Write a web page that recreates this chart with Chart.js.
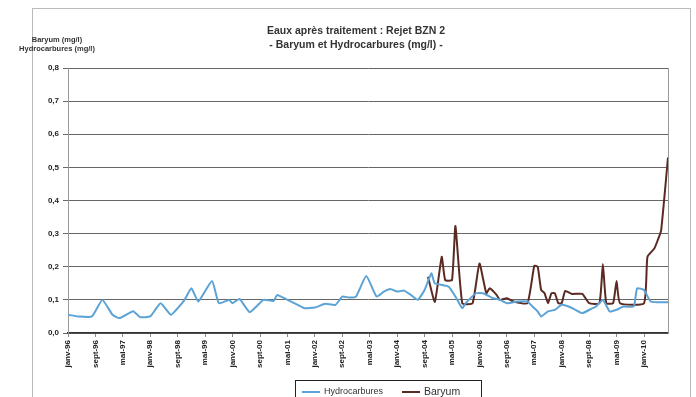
<!DOCTYPE html>
<html lang="fr">
<head>
<meta charset="utf-8">
<script src="https://cdn.jsdelivr.net/npm/chart.js@4"></script>
<style>
    body { margin: 0; background: #fff; font-family: "Liberation Sans", Arial, sans-serif; }
    #wrap { position: relative; width: 696px; height: 397px; overflow: hidden; }
    #frame { position: absolute; left: 32px; top: 8px; width: 657px; height: 400px; border: 1px solid #bbb; }
    .title { position: absolute; left: 190px; width: 332px; text-align: center; font-size: 10.5px; font-weight: bold; color: #333; }
    .ytitle { position: absolute; left: 10px; width: 94px; text-align: center; font-size: 7.5px; font-weight: bold; color: #333; }
    #legend { position: absolute; left: 295px; top: 380px; width: 185px; height: 30px; border: 1px solid #222; background: #fff; font-size: 9px; color: #333; }
    #legend .item { position: absolute; top: 5px; }
    #legend .swatch { display: inline-block; width: 18px; height: 0; vertical-align: middle; margin-right: 4px; }
</style>
</head>
<body>
<div id="wrap">
    <div id="frame"></div>
    <canvas id="chart"></canvas>
    <div class="title" style="top:24px">Eaux après traitement : Rejet BZN 2</div>
    <div class="title" style="top:38px">- Baryum et Hydrocarbures (mg/l) -</div>
    <div class="ytitle" style="top:35px">Baryum (mg/l)</div>
    <div class="ytitle" style="top:44px">Hydrocarbures (mg/l)</div>
    <div id="legend">
        <span class="item" style="left:6px"><span class="swatch" style="border-top:2px solid #5ba3d6"></span>Hydrocarbures</span>
        <span class="item" style="left:106px; font-size:10.5px; top:4px"><span class="swatch" style="border-top:2px solid #5b2a22"></span>Baryum</span>
    </div>
</div>
<script>
// Graduations de l'axe des dates (une tous les 8 mois)
const tickLabels = ['janv-96', 'sept-96', 'mai-97', 'janv-98', 'sept-98', 'mai-99', 'janv-00', 'sept-00',
    'mai-01', 'janv-02', 'sept-02', 'mai-03', 'janv-04', 'sept-04', 'mai-05', 'janv-06',
    'sept-06', 'mai-07', 'janv-08', 'sept-08', 'mai-09', 'janv-10'];
const tickStep = 8;

// Hydrocarbures : mois (depuis janv-96) et valeurs en mg/l
const hcMonths = [0, 3, 7, 10, 13, 15, 19, 21, 24, 27, 30, 32, 34, 36, 38, 42, 44, 47, 48, 50,
    53, 57, 60, 61, 64, 67, 69, 72, 75, 78, 80, 82, 84, 87, 90, 92, 94, 96, 98, 100,
    102, 104, 106, 107, 111, 113, 115, 116, 119, 121, 124, 126, 128, 131, 134, 135, 137, 138, 140, 142,
    144, 146, 148, 150, 153, 154, 156, 158, 160, 162, 165, 166, 168, 170, 175];
const hcValues = [0.055, 0.05, 0.05, 0.10, 0.055, 0.045, 0.066, 0.048, 0.05, 0.09, 0.055, 0.075, 0.10, 0.135, 0.095, 0.157, 0.09, 0.10, 0.09, 0.103,
    0.063, 0.10, 0.097, 0.115, 0.10, 0.085, 0.075, 0.077, 0.088, 0.085, 0.11, 0.107, 0.11, 0.172, 0.11, 0.124, 0.133, 0.125, 0.128, 0.115,
    0.10, 0.13, 0.18, 0.15, 0.14, 0.11, 0.075, 0.09, 0.12, 0.12, 0.105, 0.10, 0.09, 0.095, 0.095, 0.085, 0.065, 0.05, 0.065, 0.07,
    0.085, 0.08, 0.07, 0.06, 0.075, 0.08, 0.10, 0.065, 0.07, 0.08, 0.08, 0.135, 0.13, 0.095, 0.093];

// Baryum : mois et valeurs en mg/l
const baMonths = [105, 107, 109, 110, 112, 113, 115, 118, 120, 122, 123, 125, 126, 128, 130, 134, 136, 137, 138, 139,
    140, 141, 142, 143, 144, 145, 147, 150, 152, 155, 156, 157, 159, 160, 161, 168, 169, 171, 172, 173, 175];
const baValues = [0.17, 0.094, 0.23, 0.16, 0.16, 0.323, 0.09, 0.09, 0.21, 0.12, 0.135, 0.115, 0.10, 0.105, 0.095, 0.09, 0.203, 0.20, 0.13, 0.12,
    0.09, 0.12, 0.12, 0.09, 0.09, 0.127, 0.118, 0.118, 0.09, 0.09, 0.208, 0.09, 0.09, 0.157, 0.09, 0.09, 0.23, 0.255, 0.28, 0.31, 0.53];

function toPoints(months, values) {
    return months.map((m, i) => ({ x: m, y: values[i] }));
}

// Bord droit de la zone de tracé
const plotFrame = {
    id: 'plotFrame',
    afterDraw(chart) {
        const { ctx, chartArea } = chart;
        ctx.save();
        ctx.strokeStyle = '#999';
        ctx.lineWidth = 1;
        ctx.beginPath();
        ctx.moveTo(chartArea.right + 0.5, chartArea.top);
        ctx.lineTo(chartArea.right + 0.5, chartArea.bottom);
        ctx.stroke();
        ctx.restore();
    }
};

const canvas = document.getElementById('chart');
canvas.width = 696;
canvas.height = 397;

new Chart(canvas.getContext('2d'), {
    type: 'line',
    data: {
        datasets: [{
            label: 'Hydrocarbures',
            data: toPoints(hcMonths, hcValues),
            borderColor: '#5ba3d6',
            borderWidth: 2,
            pointRadius: 0,
            tension: 0.15
        }, {
            label: 'Baryum',
            data: toPoints(baMonths, baValues),
            borderColor: '#5b2a22',
            borderWidth: 2,
            pointRadius: 0,
            tension: 0.15
        }]
    },
    options: {
        responsive: false,
        animation: false,
        layout: { padding: { top: 68, right: 28, left: 0, bottom: 0 } },
        plugins: {
            legend: { display: false },
            tooltip: { enabled: false }
        },
        scales: {
            x: {
                type: 'linear',
                min: 0,
                max: 175,
                afterBuildTicks(scale) {
                    scale.ticks = tickLabels.map((_, i) => ({ value: i * tickStep }));
                },
                afterFit(scale) { scale.height = 64; },
                ticks: {
                    autoSkip: false,
                    minRotation: 90,
                    maxRotation: 90,
                    padding: 3,
                    color: '#222',
                    font: { size: 8, weight: 'bold', family: 'Liberation Sans' },
                    callback: (v) => tickLabels[v / tickStep] ?? ''
                },
                grid: { drawOnChartArea: false, tickLength: 4, color: '#888' },
                border: { color: '#333', width: 1.5 }
            },
            y: {
                min: 0,
                max: 0.8,
                afterFit(scale) { scale.width = 68; },
                ticks: {
                    stepSize: 0.1,
                    padding: 4,
                    color: '#222',
                    font: { size: 8, weight: 'bold', family: 'Liberation Sans' },
                    callback: (v) => v.toFixed(1).replace('.', ',')
                },
                grid: { color: '#666', tickLength: 5 },
                border: { color: '#999' }
            }
        }
    },
    plugins: [plotFrame]
});
</script>
</body>
</html>
